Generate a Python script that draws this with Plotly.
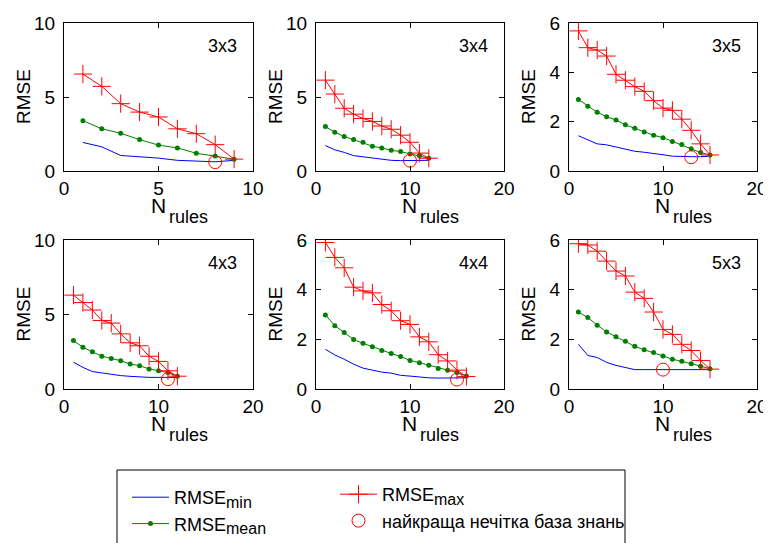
import plotly.graph_objects as go

# ---------------- data ----------------
rules_3x3 = [1, 2, 3, 4, 5, 6, 7, 8, 9]
min_3x3 = [1.93, 1.63, 1.05, 0.97, 0.87, 0.72, 0.65, 0.62, 0.72]
mean_3x3 = [3.40, 2.85, 2.55, 2.12, 1.75, 1.56, 1.20, 1.02, 0.80]
max_3x3 = [6.55, 5.72, 4.55, 3.98, 3.65, 2.85, 2.52, 1.78, 0.80]

rules_3x4 = [1, 2, 3, 4, 5, 6, 7, 8, 9, 10, 11, 12]
min_3x4 = [1.72, 1.43, 1.26, 1.04, 0.96, 0.88, 0.77, 0.72, 0.70, 0.70, 0.70, 0.72]
mean_3x4 = [3.00, 2.62, 2.33, 2.12, 1.94, 1.68, 1.56, 1.40, 1.31, 1.15, 1.04, 0.86]
max_3x4 = [6.14, 5.20, 4.24, 3.84, 3.55, 3.35, 3.04, 2.82, 2.42, 1.94, 1.21, 0.86]

rules_3x5 = [1, 2, 3, 4, 5, 6, 7, 8, 9, 10, 11, 12, 13, 14, 15]
min_3x5 = [1.43, 1.25, 1.10, 1.06, 0.98, 0.88, 0.80, 0.76, 0.72, 0.66, 0.60, 0.58, 0.58, 0.58, 0.60]
mean_3x5 = [2.90, 2.63, 2.38, 2.20, 2.07, 1.87, 1.73, 1.58, 1.45, 1.35, 1.20, 1.07, 0.90, 0.75, 0.65]
max_3x5 = [5.68, 5.00, 4.90, 4.66, 3.92, 3.68, 3.42, 3.23, 2.85, 2.55, 2.46, 2.10, 1.65, 1.10, 0.65]

rules_4x3 = [1, 2, 3, 4, 5, 6, 7, 8, 9, 10, 11, 12]
min_4x3 = [1.80, 1.45, 1.17, 1.07, 0.95, 0.90, 0.85, 0.80, 0.78, 0.78, 0.77, 0.78]
mean_4x3 = [3.25, 2.80, 2.50, 2.20, 2.05, 1.90, 1.68, 1.56, 1.35, 1.22, 1.10, 0.86]
max_4x3 = [6.30, 5.80, 5.30, 4.60, 4.42, 3.70, 3.10, 2.90, 2.20, 1.85, 1.22, 0.86]

rules_4x4 = [1, 2, 3, 4, 5, 6, 7, 8, 9, 10, 11, 12, 13, 14, 15, 16]
min_4x4 = [1.60, 1.37, 1.20, 1.00, 0.84, 0.75, 0.68, 0.64, 0.55, 0.52, 0.48, 0.45, 0.44, 0.44, 0.43, 0.45]
mean_4x4 = [2.98, 2.55, 2.28, 1.99, 1.84, 1.70, 1.55, 1.43, 1.31, 1.15, 1.06, 0.96, 0.83, 0.75, 0.66, 0.52]
max_4x4 = [5.90, 5.30, 4.88, 4.10, 3.95, 3.87, 3.40, 3.15, 2.75, 2.60, 2.10, 1.90, 1.38, 1.13, 0.76, 0.50]

rules_5x3 = [1, 2, 3, 4, 5, 6, 7, 8, 9, 10, 11, 12, 13, 14, 15]
min_5x3 = [1.80, 1.35, 1.27, 1.07, 0.95, 0.87, 0.78, 0.78, 0.78, 0.78, 0.78, 0.78, 0.78, 0.78, 0.78]
mean_5x3 = [3.10, 2.88, 2.57, 2.30, 2.10, 1.92, 1.72, 1.58, 1.47, 1.33, 1.20, 1.12, 1.02, 0.92, 0.82]
max_5x3 = [5.85, 5.80, 5.55, 5.15, 4.75, 4.55, 3.90, 3.65, 3.10, 2.40, 2.20, 1.80, 1.55, 1.15, 0.80]

best_rules = [8, 10, 13, 11, 15, 10]
best_rmse = [0.60, 0.70, 0.56, 0.66, 0.38, 0.78]

panel_names = ["3x3", "3x4", "3x5", "4x3", "4x4", "5x3"]
x_ranges = [[0, 10], [0, 20], [0, 20], [0, 20], [0, 20], [0, 20]]
x_ticks = [[0, 5, 10], [0, 10, 20], [0, 10, 20], [0, 10, 20], [0, 10, 20], [0, 10, 20]]
y_ranges = [[0, 10], [0, 10], [0, 6], [0, 10], [0, 6], [0, 6]]
y_ticks = [[0, 5, 10], [0, 5, 10], [0, 2, 4, 6], [0, 5, 10], [0, 2, 4, 6], [0, 2, 4, 6]]

legend_min = "RMSE<sub><span style='font-size:16px'>min</span></sub>"
legend_mean = "RMSE<sub><span style='font-size:16px'>mean</span></sub>"
legend_max = "RMSE<sub><span style='font-size:16px'>max</span></sub>"
legend_best = "найкраща нечітка база знань"

panels = [
    (rules_3x3, min_3x3, mean_3x3, max_3x3),
    (rules_3x4, min_3x4, mean_3x4, max_3x4),
    (rules_3x5, min_3x5, mean_3x5, max_3x5),
    (rules_4x3, min_4x3, mean_4x3, max_4x3),
    (rules_4x4, min_4x4, mean_4x4, max_4x4),
    (rules_5x3, min_5x3, mean_5x3, max_5x3),
]

# ---------------- layout geometry ----------------
# the page body adds an 8 px margin, so figure coordinates = screen coordinates - 8
W, H = 771, 543
OFF = 8
col_px = [(64 - OFF, 253 - OFF), (316 - OFF, 504 - OFF), (569 - OFF, 757 - OFF)]
row_px = [(23 - OFF, 171 - OFF), (240 - OFF, 389 - OFF)]

FONT = "Liberation Sans, Arial, sans-serif"
BLUE, GREEN, RED = "#0000ff", "#008000", "#ff0000"

fig = go.Figure()
layout = dict(
    width=W, height=H,
    margin=dict(l=0, r=0, t=0, b=0, autoexpand=False),
    paper_bgcolor="white", plot_bgcolor="white",
    font=dict(family=FONT, size=18, color="black"),
    annotations=[], shapes=[],
)

for i, (rules, vmin, vmean, vmax) in enumerate(panels):
    r, c = divmod(i, 3)
    n = i + 1
    xs = "x" if n == 1 else f"x{n}"
    ys = "y" if n == 1 else f"y{n}"
    x0, x1 = col_px[c]
    y0, y1 = row_px[r]
    common = dict(showline=True, linecolor="black", linewidth=1, mirror="ticks",
                  ticks="inside", ticklen=5, tickcolor="black", showgrid=False,
                  zeroline=False, automargin=False, tickfont=dict(size=19, family=FONT))
    layout["xaxis" if n == 1 else f"xaxis{n}"] = dict(
        domain=[x0 / W, x1 / W], anchor=ys, range=x_ranges[i], tickvals=x_ticks[i], **common)
    layout["yaxis" if n == 1 else f"yaxis{n}"] = dict(
        domain=[1 - y1 / H, 1 - y0 / H], anchor=xs, range=y_ranges[i], tickvals=y_ticks[i],
        ticklabelstandoff=4, **common)

    show = i == 0
    fig.add_trace(go.Scatter(x=rules, y=vmin, mode="lines", line=dict(color=BLUE, width=1),
                             name=legend_min, legend="legend", showlegend=show, xaxis=xs, yaxis=ys))
    fig.add_trace(go.Scatter(x=rules, y=vmean, mode="lines+markers", line=dict(color=GREEN, width=1),
                             marker=dict(symbol="circle", size=5, color=GREEN),
                             name=legend_mean, legend="legend", showlegend=show, xaxis=xs, yaxis=ys))
    fig.add_trace(go.Scatter(x=rules, y=vmax, mode="lines+markers", line=dict(color=RED, width=1),
                             marker=dict(symbol="cross-thin-open", size=13, line=dict(color=RED, width=1), color=RED),
                             name=legend_max, legend="legend2", showlegend=show, xaxis=xs, yaxis=ys))
    fig.add_trace(go.Scatter(x=[best_rules[i]], y=[best_rmse[i]], mode="markers",
                             marker=dict(symbol="circle-open", size=13, line=dict(color=RED, width=1), color=RED),
                             name=legend_best, legend="legend2", showlegend=show, xaxis=xs, yaxis=ys))

    xd, yd = f"{xs} domain", f"{ys} domain"
    layout["annotations"] += [
        dict(text=panel_names[i], xref=xd, yref=yd, x=1, y=1, xanchor="right", yanchor="top",
             xshift=-14, yshift=-11, showarrow=False, font=dict(size=18)),
        dict(text="RMSE", xref=xd, yref=yd, x=0, y=0.5, xanchor="center", yanchor="middle",
             xshift=-41, textangle=-90, showarrow=False, font=dict(size=19)),
        dict(text="N", xref=xd, yref=yd, x=0.5, y=0, xanchor="right", yanchor="middle",
             xshift=9, yshift=-34, showarrow=False, font=dict(size=21)),
        dict(text="rules", xref=xd, yref=yd, x=0.5, y=0, xanchor="left", yanchor="middle",
             xshift=8, yshift=-46, showarrow=False, font=dict(size=18)),
    ]

# legend frame (bottom edge lies outside the picture, as in the reference)
layout["shapes"].append(dict(type="rect", xref="paper", yref="paper",
                             x0=(117 - OFF) / W, x1=(625 - OFF) / W, y0=-0.2, y1=1 - (470 - OFF) / H,
                             line=dict(color="black", width=1), fillcolor="rgba(0,0,0,0)"))
leg_common = dict(orientation="v", bgcolor="rgba(0,0,0,0)", borderwidth=0, itemwidth=37,
                  font=dict(size=18, family=FONT), xanchor="left", yanchor="top",
                  tracegroupgap=0, itemclick=False)
layout["legend"] = dict(x=119 / W, y=1 - 471 / H, **leg_common)
layout["legend2"] = dict(x=327 / W, y=1 - 468 / H, **leg_common)

fig.update_layout(**layout)
fig.write_html("out.html")
